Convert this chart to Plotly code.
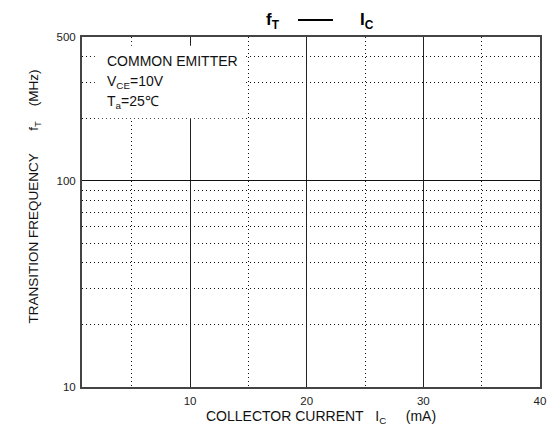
import plotly.graph_objects as go
import math

# ---- data / axis values ----
x_range = [0.74, 40]            # collector current, mA (linear)
y_range = [10, 500]             # transition frequency, MHz (log)
x_ticks = [10, 20, 30, 40]
x_minor = [5, 15, 25, 35]
y_ticks = [10, 100, 500]
y_minor = [20, 30, 40, 50, 60, 70, 80, 90, 200, 300, 400]

NB = "\u00a0"
FONT = "Arial, Liberation Sans, sans-serif"

fig = go.Figure()
fig.add_trace(go.Scatter(x=[], y=[], mode="lines", showlegend=False))

fig.update_layout(
    width=558, height=430,
    margin=dict(l=82, r=18, t=37, b=43),
    paper_bgcolor="white", plot_bgcolor="white",
    font=dict(family=FONT, color="#222", size=11),
    showlegend=False,
)

fig.update_xaxes(
    type="linear", range=x_range,
    tickmode="array", tickvals=x_ticks, ticktext=[str(v) for v in x_ticks],
    showgrid=True, gridcolor="#222", gridwidth=1,
    showline=True, mirror=True, linecolor="#444", linewidth=2,
    ticks="", ticklabelstandoff=2, zeroline=False,
    tickfont=dict(size=11.5, color="#222"),
    minor=dict(tickvals=x_minor, showgrid=True, gridcolor="#111",
               gridwidth=1, griddash="1px,3px", ticks=""),
)
fig.update_yaxes(
    type="log", range=[math.log10(y_range[0]), math.log10(y_range[1])],
    tickmode="array", tickvals=y_ticks, ticktext=[str(v) for v in y_ticks],
    showgrid=True, gridcolor="#111", gridwidth=1,
    showline=True, mirror=True, linecolor="#444", linewidth=2,
    ticks="", ticklabelstandoff=2, zeroline=False,
    tickfont=dict(size=11.5, color="#222"),
    minor=dict(tickvals=y_minor, showgrid=True, gridcolor="#111",
               gridwidth=1, griddash="1px,3px", ticks=""),
)

# white box behind the condition text
fig.add_shape(type="rect", xref="paper", yref="paper",
              x0=0.028, x1=0.357, y0=0.768, y1=0.975,
              fillcolor="white", line=dict(width=0), layer="above")

# title dash
fig.add_shape(type="line", xref="paper", yref="paper",
              x0=0.4716, x1=0.548, y0=1.0486, y1=1.0486,
              line=dict(color="black", width=2))

ann = []
ann.append(dict(text="<b>f<sub>T</sub></b>", x=0.417, y=1.045, xref="paper", yref="paper",
                showarrow=False, font=dict(size=17, color="black"), xanchor="center", yanchor="middle"))
ann.append(dict(text="<b>I<sub>C</sub></b>", x=0.622, y=1.045, xref="paper", yref="paper",
                showarrow=False, font=dict(size=17, color="black"), xanchor="center", yanchor="middle"))

box_lines = ["COMMON EMITTER", "V<sub>CE</sub>=10V", "T<sub>a</sub>=25\u2103"]
box_y = [0.931, 0.871, 0.814]
for t, yy in zip(box_lines, box_y):
    ann.append(dict(text=t, x=0.05, y=yy, xref="paper", yref="paper",
                    showarrow=False, font=dict(size=14, color="#111"),
                    xanchor="left", yanchor="middle"))

ann.append(dict(text="TRANSITION FREQUENCY" + NB * 6 + "f<sub>T</sub>" + NB * 4 + "(MHz)",
                x=-0.1026, y=0.544, xref="paper", yref="paper", textangle=-90,
                showarrow=False, font=dict(size=13.5, color="#111"),
                xanchor="center", yanchor="middle"))
ann.append(dict(text="COLLECTOR CURRENT" + NB * 3 + "I<sub>C</sub>" + NB * 5 + "(mA)",
                x=0.522, y=-0.086, xref="paper", yref="paper",
                showarrow=False, font=dict(size=14, color="#111"),
                xanchor="center", yanchor="middle"))
fig.update_layout(annotations=ann)

fig.write_html("out.html", config={"displayModeBar": False},
               post_script="document.body.style.margin='0';")
